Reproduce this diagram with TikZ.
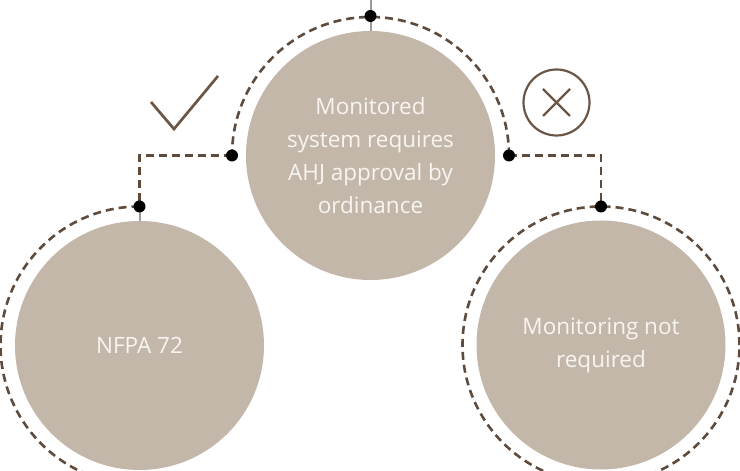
\documentclass[tikz,border=0pt]{standalone}
\usepackage{fontspec}
\setmainfont{Open Sans}
\usetikzlibrary{calc}
\definecolor{bubblefill}{HTML}{C3B7AA}
\definecolor{ringbrown}{HTML}{5E4B3C}
\definecolor{markbrown}{HTML}{6B5646}
\definecolor{linegray}{HTML}{9A9A9A}
\definecolor{textwhite}{HTML}{F8F5F1}
\begin{document}
\begin{tikzpicture}[x=1pt,y=1pt,
 bubble/.style={circle,fill=bubblefill,minimum size=249pt,inner sep=0pt,text=textwhite,align=center,font=\fontsize{22.5}{33}\selectfont},
 ring/.style={draw=ringbrown,line width=2.6pt,dash pattern=on 8pt off 5pt},
 dotnode/.style={circle,fill=black,minimum size=12pt,inner sep=0pt},
 grayline/.style={draw=linegray,line width=2pt},
 tickline/.style={draw=markbrown,line width=2.7pt,line join=miter},
 xline/.style={draw=markbrown,line width=2.4pt}]
\useasboundingbox (0,0) rectangle (740,471);
\clip (0,0) rectangle (740,471);
% bubbles
\node[bubble] (top) at (370.5,315.5) {Monitored\\system requires\\AHJ approval by\\ordinance};
\node[bubble] (nfpa) at (139.5,125.5) {NFPA 72};
\node[bubble] (notreq) at (601,126) {Monitoring not\\required};
% anchor points
\coordinate (ptop) at ($(top.center)+(0,139.5)$);
\coordinate (ptl) at ($(top.center)+(-138.5,0)$);
\coordinate (ptr) at ($(top.center)+(138.5,0)$);
\coordinate (pl) at ($(nfpa.center)+(0,139)$);
\coordinate (pr) at ($(notreq.center)+(0,138.5)$);
\coordinate (topedge) at (370.5,471);
% rings
\draw[ring] (ptr) arc[start angle=0,end angle=180,radius=138.5];
\draw[ring] (pl) arc[start angle=90,end angle=250,radius=139];
\draw[ring] (notreq.center) circle[radius=138.5];
% gray stems
\draw[grayline] (topedge) -- (ptop) -- (top.north);
\draw[grayline] (pl) -- (nfpa.north);
% connectors
\draw[ring] (ptl) -| (pl);
\draw[ring] (ptr) -| (pr);
% dots
\node[dotnode] (dtop) at (ptop) {};
\node[dotnode] (dtl) at (ptl) {};
\node[dotnode] (dtr) at (ptr) {};
\node[dotnode] (dl) at (pl) {};
\node[dotnode] (dr) at (pr) {};
% check mark
\draw[tickline] (151,369) -- (174,342) -- (218,395);
% circled X
\node[draw=markbrown,line width=2.2pt,circle,minimum size=66pt,inner sep=0pt] (xmark) at (556.5,368.5) {};
\draw[xline] ($(xmark.center)+(-13.5,13.5)$) -- ($(xmark.center)+(13.5,-13.5)$);
\draw[xline] ($(xmark.center)+(-13.5,-13.5)$) -- ($(xmark.center)+(13.5,13.5)$);
\end{tikzpicture}
\end{document}
